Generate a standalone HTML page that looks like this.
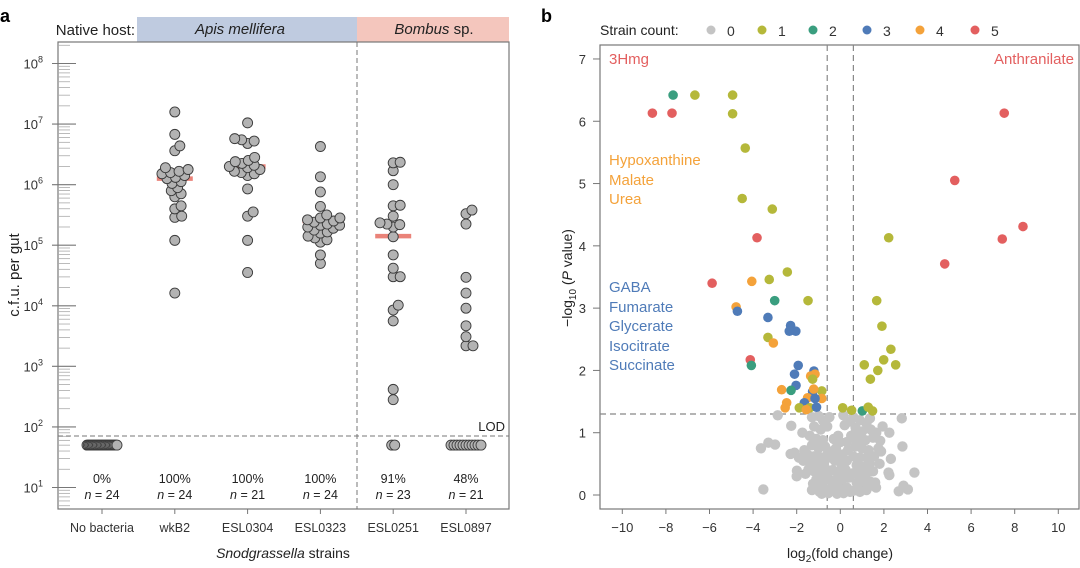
<!DOCTYPE html>
<html><head><meta charset="utf-8"><style>
html,body{margin:0;padding:0;background:#fff}
svg{display:block;font-family:"Liberation Sans",sans-serif}
</style></head><body>
<svg id="fig" width="1080" height="568" viewBox="0 0 1080 568">
<text x="0" y="22" font-size="18" font-weight="bold">a</text>
<text x="541" y="22" font-size="18" font-weight="bold">b</text>
<g id="pa"></g>
<g id="pb"></g>
</svg>
<script>
// ---------- Panel a data ----------
const strains = ["No bacteria","wkB2","ESL0304","ESL0323","ESL0251","ESL0897"];
const pctLabels = ["0%","100%","100%","100%","91%","48%"];
const nLabels = ["n = 24","n = 24","n = 21","n = 24","n = 23","n = 21"];
const medians = [1.7, 6.1, 6.3, 5.4, 5.15, 1.7]; // log10 cfu
const LOD_VAL = 1.85; // log10
const lodPoint = 1.7;
const grpNoBact = Array(24).fill(1.7);
const grpWkB2 = [7.20,6.83,6.64,6.56,6.28,6.25,6.22,6.20,6.18,6.15,6.12,6.10,6.05,6.02,5.95,5.90,5.85,5.80,5.65,5.60,5.48,5.46,5.08,4.21];
const grpESL0304 = [7.02,6.76,6.72,6.68,6.74,6.45,6.40,6.38,6.35,6.32,6.30,6.28,6.25,6.22,6.20,6.18,6.15,5.93,5.55,5.48,5.08,4.55];
const grpESL0323 = [6.63,6.13,5.88,5.64,5.50,5.45,5.45,5.42,5.40,5.38,5.35,5.33,5.33,5.30,5.28,5.25,5.22,5.20,5.15,5.12,5.09,5.05,4.84,4.70];
const grpESL0251 = [6.37,6.36,6.23,6.00,5.66,5.65,5.48,5.37,5.35,5.34,5.30,5.14,4.84,4.62,4.48,4.48,4.01,3.93,3.75,2.62,2.45,1.7,1.7];
const grpESL0897 = [5.58,5.52,5.35,4.47,4.21,3.96,3.67,3.49,3.34,3.34,1.7,1.7,1.7,1.7,1.7,1.7,1.7,1.7,1.7,1.7,1.7];
const groups = [grpNoBact,grpWkB2,grpESL0304,grpESL0323,grpESL0251,grpESL0897];
const yDecades = [1,2,3,4,5,6,7,8];

// ---------- Panel b data ----------
const xTicksB = [-10,-8,-6,-4,-2,0,2,4,6,8,10];
const yTicksB = [0,1,2,3,4,5,6,7];
const legendCounts = [0,1,2,3,4,5];
const grayX = [-2.87,-2.25,-1.74,-3.64,-3.3,-2.99,-2.28,-1.99,-1.6,-1.46,-3.53,-1.3,2.82,2.25,2.85,1.87,2.32,2.21,2.25,3.4,2.9,3.1,2.68,1.64,1.83,1.94,0.14,1.36,
-1.3,-1.0,-0.8,-1.2,-0.9,-0.6,-1.4,-1.1,-0.8,-1.3,-1.0,-0.7,-1.5,-1.2,-0.9,-0.6,-1.35,-1.05,-0.75,-1.2,-0.9,-0.6,-1.1,-0.8,-0.5,-1.0,-0.7,-0.4,-0.85,-0.55,-1.9,-1.7,-2.1,-1.65,-2.0,
-0.3,-0.2,0.0,-0.4,0.1,-0.25,0.05,0.3,-0.35,-0.05,0.25,-0.2,0.1,0.4,-0.3,0.0,0.3,-0.15,0.15,0.45,-0.1,0.5,0.3,
0.6,0.9,1.2,0.7,1.0,1.4,0.55,0.85,1.15,1.5,0.7,1.0,1.3,0.6,0.9,1.2,1.55,0.75,1.05,1.35,0.6,0.9,1.2,1.5,0.75,1.05,1.35,0.6,0.9,1.2,1.6,1.8,1.75,1.65,0.45,0.2,-0.5,
-0.65,-0.45,-0.15,0.35,0.8,1.1,-1.25,-0.95,0.2,-0.1,0.65,1.4];
const grayY = [1.28,1.11,1.0,0.75,0.84,0.81,0.66,0.39,0.34,0.41,0.09,0.08,1.23,1.0,0.78,0.70,0.58,0.36,0.32,0.36,0.15,0.09,0.06,0.12,0.87,1.1,1.28,1.23,
1.25,1.27,1.2,1.1,1.05,1.1,0.95,0.9,0.88,0.8,0.75,0.78,0.65,0.62,0.6,0.65,0.5,0.48,0.5,0.38,0.35,0.4,0.25,0.22,0.25,0.12,0.1,0.12,0.02,0.03,0.6,0.55,0.68,0.72,0.3,
0.9,0.75,0.85,0.7,0.65,0.55,0.5,0.55,0.4,0.38,0.4,0.25,0.25,0.28,0.12,0.1,0.12,0.02,0.03,0.05,0.95,0.95,0.85,
1.25,1.2,1.15,1.08,1.02,1.05,0.92,0.9,0.88,0.92,0.78,0.75,0.72,0.62,0.6,0.6,0.62,0.48,0.45,0.5,0.35,0.32,0.35,0.38,0.2,0.18,0.22,0.07,0.05,0.08,0.2,0.5,0.75,1.0,1.18,1.12,1.25,
0.3,0.6,0.18,0.72,0.42,0.3,0.18,0.05,0.42,0.65,0.98,0.15];
const sigX = [-7.67,-6.67,-4.94,-8.62,-7.72,-4.94,-4.36,-4.5,-3.12,-3.82,7.52,5.25,8.38,7.43,4.79,2.22,-5.88,-4.06,-3.26,-2.43,
-3.01,-1.48,1.67,-4.78,-4.72,-3.32,-2.28,-2.04,-2.34,1.91,-3.32,-3.07,2.32,1.99,1.10,2.54,1.72,1.38,-4.13,-4.08,-1.93,-2.1,-1.21,-1.16,-1.36,-1.27,-2.03,-2.26,-2.69,-0.85,-1.27,-1.22,-0.85,-1.5,-1.16,-2.46,-2.53,-1.65,-1.88,-1.4,-1.56,-1.09,0.11,0.52,1.01,1.28,1.48];
const sigY = [6.42,6.42,6.42,6.13,6.13,6.12,5.57,4.76,4.59,4.13,6.13,5.05,4.31,4.11,3.71,4.13,3.40,3.43,3.46,3.58,
3.12,3.12,3.12,3.02,2.95,2.85,2.72,2.63,2.63,2.71,2.53,2.44,2.34,2.17,2.09,2.09,2.0,1.86,2.17,2.08,2.08,1.94,1.99,1.94,1.91,1.86,1.76,1.68,1.69,1.67,1.66,1.70,1.55,1.56,1.55,1.48,1.40,1.48,1.40,1.40,1.37,1.41,1.40,1.36,1.35,1.41,1.35];
const sigCount = [2,1,1,5,5,1,1,1,1,5,5,5,5,5,5,1,5,4,1,1,
2,1,1,4,3,3,3,3,3,1,1,4,1,1,1,1,1,1,5,2,3,3,3,4,4,1,3,2,4,1,3,4,4,4,3,4,4,3,1,1,4,3,1,1,2,1,1];

const NS="http://www.w3.org/2000/svg";
function mk(parent,tag,attrs,text){const e=document.createElementNS(NS,tag);for(const k in attrs)e.setAttribute(k,attrs[k]);if(text!==undefined)e.textContent=text;parent.appendChild(e);return e;}
const pa=document.getElementById('pa'), pb=document.getElementById('pb');

// ===== Panel a =====
const AX0=58, AX1=509, AY0=42, AY1=509;
const ya = v => 487.5 - (v-1)*60.57;
const xa = i => 102 + i*72.8;
let e;
e=mk(pa,'rect',{x:137,y:17,width:220,height:25,fill:'#bfcbe0'});


e=mk(pa,'rect',{x:357,y:17,width:152,height:25,fill:'#f4c6bd'});


e=mk(pa,'text',{x:135,y:35,'font-size':15,'text-anchor':'end',fill:'#222'},'Native host:');


e=mk(pa,'text',{x:240,y:34,'font-size':15,'text-anchor':'middle','font-style':'italic',fill:'#222'},'Apis mellifera');


e=mk(pa,'text',{x:434,y:34,'font-size':15,'text-anchor':'middle',fill:'#222'});
e.innerHTML='<tspan font-style="italic">Bombus</tspan> sp.';


e=mk(pa,'rect',{x:AX0,y:AY0,width:AX1-AX0,height:AY1-AY0,fill:'none',stroke:'#777','stroke-width':1.2});


// y ticks
for(let d=0; d<=8; d++){
  for(let k=1;k<=9;k++){
    const v=d+Math.log10(k); const y=ya(v);
    if(y<AY0+2||y>AY1-1) continue;
    if(k===1){
      e=mk(pa,'line',{x1:52,x2:76,y1:y,y2:y,stroke:'#777','stroke-width':1.1});
    } else {
      e=mk(pa,'line',{x1:58,x2:70,y1:y,y2:y,stroke:'#aaa','stroke-width':0.8});
    }
    
    
  }
}
yDecades.forEach(d=>{
  const t=mk(pa,'text',{x:43,y:ya(d)+5,'font-size':13,'text-anchor':'end',fill:'#333'});
  t.innerHTML='10<tspan dy="-6" font-size="9">'+d+'</tspan>';
  
  
});
e=mk(pa,'text',{x:0,y:0,'font-size':15,'text-anchor':'middle',fill:'#222',transform:'translate(19,275) rotate(-90)'},'c.f.u. per gut');


// separators
e=mk(pa,'line',{x1:357,x2:357,y1:AY0,y2:AY1,stroke:'#777','stroke-dasharray':'5,3','stroke-width':1});


e=mk(pa,'line',{x1:AX0,x2:AX1,y1:ya(LOD_VAL),y2:ya(LOD_VAL),stroke:'#777','stroke-dasharray':'5,3','stroke-width':1});


e=mk(pa,'text',{x:505,y:ya(LOD_VAL)-5,'font-size':13,'text-anchor':'end',fill:'#222'},'LOD');


// categories
strains.forEach((s,i)=>{
  const x=xa(i);
  e=mk(pa,'line',{x1:x,x2:x,y1:AY1,y2:AY1+5,stroke:'#777'});
  
  
  e=mk(pa,'text',{x:x,y:532,'font-size':12.5,'text-anchor':'middle',fill:'#333'},s);
  
  
  e=mk(pa,'text',{x:x,y:483,'font-size':12.5,'text-anchor':'middle',fill:'#222'},pctLabels[i]);
  
  
  e=mk(pa,'text',{x:x,y:499,'font-size':12.5,'text-anchor':'middle',fill:'#222'});
  e.innerHTML='<tspan font-style="italic">n</tspan>'+nLabels[i].slice(1);
  
  
  // median bar
  e=mk(pa,'line',{x1:x-18,x2:x+18,y1:ya(medians[i]),y2:ya(medians[i]),stroke:'#e8756a','stroke-width':4.5,'stroke-opacity':0.9});
  
  
  // swarm
  const vals=groups[i];
  const lod=vals.filter(v=>v<=LOD_VAL), det=vals.filter(v=>v>LOD_VAL).sort((a,b)=>a-b);
  const placed=[]; const D=7;
  det.forEach(v=>{
    const y=ya(v);
    const cands=[0];
    placed.forEach(p=>{const dy=Math.abs(p.y-y); if(dy<D){const dx=Math.sqrt(D*D-dy*dy); cands.push(p.x+dx,p.x-dx);}});
    cands.sort((a,b)=>Math.abs(a)-Math.abs(b));
    let ox=0;
    for(const c of cands){ if(placed.every(p=>Math.hypot(p.x-c,p.y-y)>=D-0.01)){ox=c;break;} }
    placed.push({x:ox,y:y});
  });
  const spread=Math.min(15,(lod.length-1)*1.5);
  lod.forEach((v,j)=>{
    const ox = lod.length>1 ? -spread + 2*spread*j/(lod.length-1) : 0;
    placed.push({x:ox,y:ya(v)});
  });
  placed.forEach(p=>{
    const c=mk(pa,'circle',{cx:x+p.x,cy:p.y,r:5,fill:'#b3b3b3',stroke:'#3a3a3a','stroke-width':0.9});
    
    
  });
});
e=mk(pa,'text',{x:283,y:558,'font-size':14,'text-anchor':'middle',fill:'#222'});
e.innerHTML='<tspan font-style="italic">Snodgrassella</tspan> strains';



// ===== Panel b =====
const BX0=600, BX1=1079, BY0=45, BY1=509;
const xb = v => 840.3 + v*21.8;
const yb = v => 495 - v*62.29;
const cols=['#c4c4c4','#b5b83a','#3a9e7f','#4f7bb8','#f4a23a','#e35f5f'];
e=mk(pb,'rect',{x:BX0,y:BY0,width:BX1-BX0,height:BY1-BY0,fill:'none',stroke:'#777','stroke-width':1.2});


xTicksB.forEach(v=>{
  e=mk(pb,'line',{x1:xb(v),x2:xb(v),y1:BY1,y2:BY1+5,stroke:'#777'});
  
  
  e=mk(pb,'text',{x:xb(v),y:532,'font-size':13,'text-anchor':'middle',fill:'#333'},v<0?'\u2212'+(-v):String(v));
  
  
});
yTicksB.forEach(v=>{
  e=mk(pb,'line',{x1:593,x2:BX0,y1:yb(v),y2:yb(v),stroke:'#777'});
  
  
  e=mk(pb,'text',{x:586,y:yb(v)+5,'font-size':13,'text-anchor':'end',fill:'#333'},String(v));
  
  
});
e=mk(pb,'text',{x:840,y:558,'font-size':14,'text-anchor':'middle',fill:'#222'});
e.innerHTML='log<tspan dy="4" font-size="10">2</tspan><tspan dy="-4">(fold change)</tspan>';


e=mk(pb,'text',{x:0,y:0,'font-size':14,'text-anchor':'middle',fill:'#222',transform:'translate(572,278) rotate(-90)'});
e.innerHTML='\u2212log<tspan dy="4" font-size="10">10</tspan><tspan dy="-4"> (</tspan><tspan font-style="italic">P</tspan> value)';


// thresholds
[[xb(-0.6),xb(-0.6),BY0,BY1],[xb(0.6),xb(0.6),BY0,BY1],[BX0,BX1,yb(1.3),yb(1.3)]].forEach(a=>{
  e=mk(pb,'line',{x1:a[0],x2:a[1],y1:a[2],y2:a[3],stroke:'#888','stroke-dasharray':'6,4','stroke-width':1.2});
  
  
});
grayX.forEach((v,i)=>{
  const c=mk(pb,'circle',{cx:xb(v),cy:yb(grayY[i]),r:5.2,fill:cols[0]});
  
  
});
sigX.forEach((v,i)=>{
  const c=mk(pb,'circle',{cx:xb(v),cy:yb(sigY[i]),r:4.8,fill:cols[sigCount[i]]});
  
  
});
// legend
e=mk(pb,'text',{x:600,y:35,'font-size':14,fill:'#222'},'Strain count:');


const lx=[711,762,813,867,920,975];
legendCounts.forEach((c,i)=>{
  e=mk(pb,'circle',{cx:lx[i],cy:30,r:4.5,fill:cols[c]});
  
  
  e=mk(pb,'text',{x:lx[i]+16,y:36,'font-size':14,fill:'#333'},String(c));
  
  
});
// annotations
const ann=[[609,64,'3Hmg',cols[5],'start'],[1074,64,'Anthranilate',cols[5],'end'],
[609,165,'Hypoxanthine',cols[4],'start'],[609,185,'Malate',cols[4],'start'],[609,204,'Urea',cols[4],'start'],
[609,292,'GABA',cols[3],'start'],[609,312,'Fumarate',cols[3],'start'],[609,331,'Glycerate',cols[3],'start'],[609,351,'Isocitrate',cols[3],'start'],[609,370,'Succinate',cols[3],'start']];
ann.forEach(a=>{
  e=mk(pb,'text',{x:a[0],y:a[1],'font-size':15,fill:a[3],'text-anchor':a[4]},a[2]);
  
  
});
</script>
</body></html>
